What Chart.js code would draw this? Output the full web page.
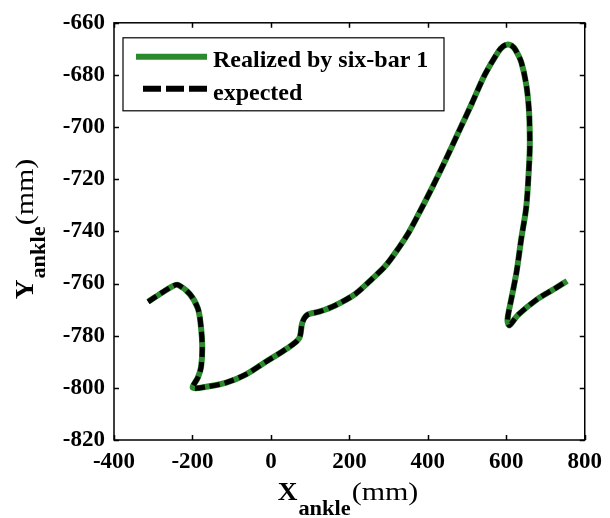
<!DOCTYPE html>
<html>
<head>
<meta charset="utf-8">
<script src="https://cdn.jsdelivr.net/npm/chart.js@4"></script>
<style>
  html, body { margin: 0; padding: 0; background: #fff; }
  #wrap { width: 610px; height: 518px; }
</style>
</head>
<body>
<div id="wrap"><canvas id="ankleChart"></canvas></div>
<script>
// ankle trajectory (mm)
const realizedX = [-313, -283, -250, -237, -207, -186, -178, -175, -178, -186, -199,
  -165, -114, -63, -13, 40, 72, 80, 93, 123, 165, 216, 258, 292, 325, 351, 376,
  410, 444, 478, 512, 545, 579, 592, 604, 614, 624, 638, 651, 658, 660, 659, 651, 638, 626,
  613, 603, 608, 630, 681, 723, 755];
const realizedY = [-767, -764, -761, -760.5, -764, -769.6, -777, -784.7, -792, -796, -800,
  -799.6, -798, -794.8, -790, -785, -781, -775, -772, -770.8, -768.3, -763.9, -758.2, -753.2, -746.5, -740.5, -733.5,
  -723.5, -713, -702, -691, -680, -671.2, -669, -668.3, -668.8, -670.5, -675, -683.8, -694, -705, -712, -730.5, -743, -755.7,
  -765.8, -774, -776, -772, -765.8, -762, -759];
// the expected path lies right on top of the realized one
const expectedX = realizedX.slice();
const expectedY = realizedY.slice();

const xTicks = [-400, -200, 0, 200, 400, 600, 800];
const yTicks = [-820, -800, -780, -760, -740, -720, -700, -680, -660];
const seriesNames = ["Realized by six-bar 1", "expected"];

const serif = '"Liberation Serif", "DejaVu Serif", serif';
const green = '#2b8a2b';

function toPoints(xs, ys) {
    return xs.map((v, i) => ({ x: v, y: ys[i] }));
}

// frame with matlab style inward ticks
const frameTicks = {
    id: 'frameTicks',
    afterDatasetsDraw(chart) {
        const { ctx, chartArea: a, scales: { x, y } } = chart;
        ctx.save();
        ctx.strokeStyle = '#000';
        ctx.lineWidth = 1.5;
        ctx.strokeRect(a.left, a.top, a.right - a.left, a.bottom - a.top);
        ctx.beginPath();
        xTicks.forEach(v => {
            const px = Math.round(x.getPixelForValue(v)) + 0.5;
            ctx.moveTo(px, a.bottom); ctx.lineTo(px, a.bottom - 5);
            ctx.moveTo(px, a.top); ctx.lineTo(px, a.top + 5);
        });
        yTicks.forEach(v => {
            const py = Math.round(y.getPixelForValue(v)) + 0.5;
            ctx.moveTo(a.left, py); ctx.lineTo(a.left + 5, py);
            ctx.moveTo(a.right, py); ctx.lineTo(a.right - 5, py);
        });
        ctx.stroke();
        ctx.restore();
    }
};

// legend box inside the plot, top left
const boxLegend = {
    id: 'boxLegend',
    afterDraw(chart) {
        const { ctx, chartArea: a } = chart;
        const bx = a.left + 9, by = a.top + 15, bw = 321, bh = 73;
        ctx.save();
        ctx.fillStyle = '#fff';
        ctx.fillRect(bx, by, bw, bh);
        ctx.strokeStyle = '#000';
        ctx.lineWidth = 1.2;
        ctx.strokeRect(bx, by, bw, bh);

        ctx.lineWidth = 6;
        ctx.strokeStyle = green;
        ctx.beginPath(); ctx.moveTo(bx + 13, by + 19); ctx.lineTo(bx + 84, by + 19); ctx.stroke();
        ctx.strokeStyle = '#000';
        ctx.setLineDash([18, 5]);
        ctx.beginPath(); ctx.moveTo(bx + 20, by + 51); ctx.lineTo(bx + 84, by + 51); ctx.stroke();
        ctx.setLineDash([]);

        ctx.fillStyle = '#000';
        ctx.font = 'bold 24px ' + serif;
        ctx.textBaseline = 'alphabetic';
        ctx.fillText(seriesNames[0], bx + 90, by + 29);
        ctx.fillText(seriesNames[1], bx + 90, by + 62);
        ctx.restore();
    }
};

// axis titles with subscripts, parts a little stretched like the original
function drawSubTitle(ctx, letter, cx, base, subDrop) {
    const parts = [
        { t: letter, f: 'bold 26px ' + serif, sx: 1.05, dy: 0 },
        { t: 'ankle', f: 'bold 20px ' + serif, sx: 1.12, dy: subDrop },
        { t: '(mm)', f: '25px ' + serif, sx: 1.2, dy: 0 },
    ];
    let total = 0;
    parts.forEach(p => { ctx.font = p.f; p.w = ctx.measureText(p.t).width * p.sx; total += p.w; });
    let x0 = cx - total / 2;
    parts.forEach(p => {
        ctx.save();
        ctx.font = p.f;
        ctx.translate(x0, base + p.dy);
        ctx.scale(p.sx, 1);
        ctx.fillText(p.t, 0, 0);
        ctx.restore();
        x0 += p.w + 1;
    });
}

const axisTitles = {
    id: 'axisTitles',
    afterDraw(chart) {
        const { ctx } = chart;
        ctx.save();
        ctx.fillStyle = '#000';
        ctx.textBaseline = 'alphabetic';
        drawSubTitle(ctx, 'X', 347, 500, 15);
        ctx.translate(33, 230);
        ctx.rotate(-Math.PI / 2);
        drawSubTitle(ctx, 'Y', 0, 0, 12);
        ctx.restore();
    }
};

document.addEventListener('DOMContentLoaded', function () {
    const ctx = document.getElementById('ankleChart').getContext('2d');
    new Chart(ctx, {
        type: 'scatter',
        data: {
            datasets: [
                {
                    label: seriesNames[0],
                    data: toPoints(realizedX, realizedY),
                    showLine: true,
                    borderColor: green,
                    borderWidth: 6,
                    pointRadius: 0,
                    tension: 0.3,
                    order: 2,
                },
                {
                    label: seriesNames[1],
                    data: toPoints(expectedX, expectedY),
                    showLine: true,
                    borderColor: '#000',
                    borderWidth: 5,
                    borderDash: [10, 5],
                    pointRadius: 0,
                    tension: 0.3,
                    order: 1,
                },
            ]
        },
        options: {
            responsive: true,
            maintainAspectRatio: false,
            animation: false,
            layout: { padding: { top: 17, right: 23, left: 0, bottom: 0 } },
            plugins: {
                legend: { display: false },
                tooltip: { enabled: false },
            },
            scales: {
                x: {
                    type: 'linear',
                    min: -400, max: 800,
                    afterFit: s => { s.height = 78; },
                    afterBuildTicks: s => { s.ticks = xTicks.map(v => ({ value: v })); },
                    grid: { display: false, drawTicks: false },
                    border: { display: false },
                    ticks: { color: '#000', padding: 8, maxRotation: 0,
                             font: { family: serif, size: 23, weight: 'bold' } },
                },
                y: {
                    type: 'linear',
                    min: -820, max: -660,
                    afterFit: s => { s.width = 114; },
                    afterBuildTicks: s => { s.ticks = yTicks.map(v => ({ value: v })); },
                    grid: { display: false, drawTicks: false },
                    border: { display: false },
                    ticks: { color: '#000', padding: 9,
                             font: { family: serif, size: 23, weight: 'bold' } },
                },
            }
        },
        plugins: [frameTicks, boxLegend, axisTitles]
    });
});
</script>
</body>
</html>
